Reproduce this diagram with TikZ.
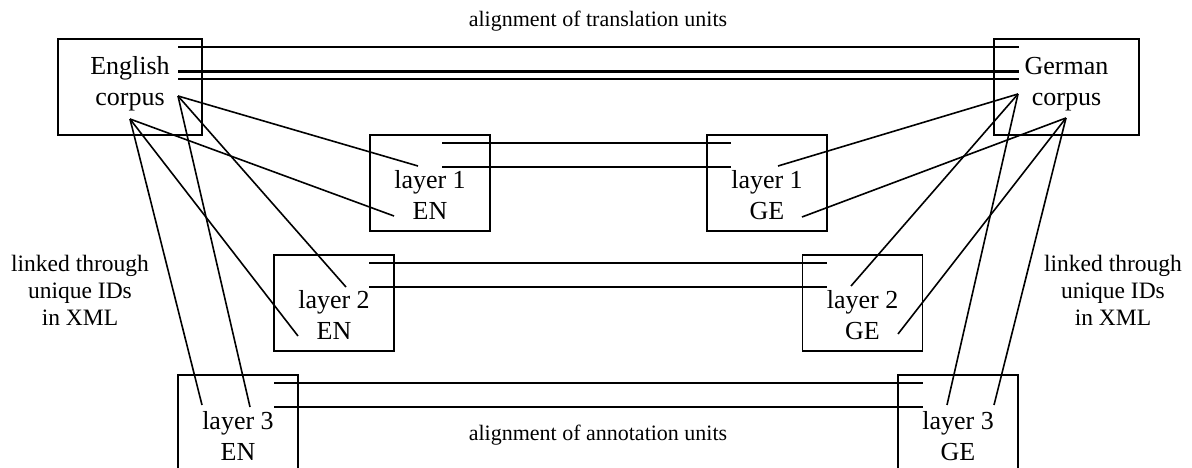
\documentclass[tikz,border=0pt]{standalone}
\usepackage{fontspec}
\setmainfont{Liberation Serif}
\begin{document}
\begin{tikzpicture}[x=1pt, y=-1pt,
		box/.style={draw, line width=1.7pt, inner sep=0pt, minimum width=120pt, minimum height=96pt},
		corp/.style={box, minimum width=144pt},
		txt/.style={align=center, inner sep=0pt, font=\fontsize{26}{31}\selectfont},
		lbl/.style={align=center, inner sep=0pt, font=\fontsize{22}{27.5}\selectfont},
		side/.style={lbl, font=\fontsize{23.5}{27}\selectfont},
		link/.style={line width=1.6pt}
	]
	\clip (0,0) rectangle (1192,468);

	% corpora
	\node[corp] (en) at (130,87) {};
	\node[corp, minimum width=145pt] (ge) at (1066.5,87) {};
	\node[txt] (en-t) at ([yshift=3pt]en.center) {English\\corpus};
	\node[txt] (ge-t) at ([yshift=3pt]ge.center) {German\\corpus};

	% layers
	\node[box] (l1en) at (430,183) {};
	\node[box] (l1ge) at (767,183) {};
	\node[box] (l2en) at (334,303) {};
	\node[box] (l2ge) at (862.5,303) {};
	\node[box] (l3en) at (238,423) {};
	\node[box] (l3ge) at (958,423) {};
	\node[txt] (l1en-t) at ([yshift=-12pt]l1en.center) {layer 1\\EN};
	\node[txt] (l1ge-t) at ([yshift=-12pt]l1ge.center) {layer 1\\GE};
	\node[txt] (l2en-t) at ([yshift=-12pt]l2en.center) {layer 2\\EN};
	\node[txt] (l2ge-t) at ([yshift=-12pt]l2ge.center) {layer 2\\GE};
	\node[txt] (l3en-t) at ([yshift=-13pt]l3en.center) {layer 3\\EN};
	\node[txt] (l3ge-t) at ([yshift=-13pt]l3ge.center) {layer 3\\GE};

	% labels
	\node[lbl, anchor=base] (top) at (598,27) {alignment of translation units};
	\node[lbl, anchor=base] (bot) at (598,440) {alignment of annotation units};
	\node[side] (idl) at (80,290) {linked through\\unique IDs\\in XML};
	\node[side] (idr) at (1113,290) {linked through\\unique IDs\\in XML};

	% end points
	\coordinate (en-a) at (178,96);
	\coordinate (en-b) at (130,119);
	\coordinate (ge-a) at (1018,94);
	\coordinate (ge-b) at (1066,118);
	\coordinate (l1en-a) at (418,166);
	\coordinate (l1en-b) at (394,216);
	\coordinate (l2en-a) at (346,287);
	\coordinate (l2en-b) at (298,336);
	\coordinate (l3en-a) at (250,407);
	\coordinate (l3en-b) at (202,405);
	\coordinate (l1ge-a) at (778,166);
	\coordinate (l1ge-b) at (802,217);
	\coordinate (l2ge-a) at (851,286);
	\coordinate (l2ge-b) at (898,334);
	\coordinate (l3ge-a) at (947,405);
	\coordinate (l3ge-b) at (994,405);

	% alignment lines
	\coordinate (c1) at (178,47);   \coordinate (d1) at (1019,47);
	\coordinate (c2) at (178,71.5); \coordinate (d2) at (1019,71.5);
	\coordinate (c3) at (178,79);   \coordinate (d3) at (1019,79);
	\coordinate (p1) at (442,143);  \coordinate (q1) at (731,143);
	\coordinate (p2) at (442,167);  \coordinate (q2) at (731,167);
	\coordinate (r1) at (369,263);  \coordinate (s1) at (827,263);
	\coordinate (r2) at (369,287);  \coordinate (s2) at (827,287);
	\coordinate (u1) at (274,383);  \coordinate (v1) at (923,383);
	\coordinate (u2) at (274,407);  \coordinate (v2) at (923,407);

	\draw[link] (c1) -- (d1);
	\draw[link, line width=2.4pt] (c2) -- (d2);
	\draw[link] (c3) -- (d3);
	\draw[link] (p1) -- (q1);
	\draw[link] (p2) -- (q2);
	\draw[link] (r1) -- (s1);
	\draw[link] (r2) -- (s2);
	\draw[link] (u1) -- (v1);
	\draw[link] (u2) -- (v2);

	% ID links
	\draw[link] (en-a) -- (l1en-a);
	\draw[link] (en-a) -- (l2en-a);
	\draw[link] (en-a) -- (l3en-a);
	\draw[link] (en-b) -- (l1en-b);
	\draw[link] (en-b) -- (l2en-b);
	\draw[link] (en-b) -- (l3en-b);
	\draw[link] (ge-a) -- (l1ge-a);
	\draw[link] (ge-a) -- (l2ge-a);
	\draw[link] (ge-a) -- (l3ge-a);
	\draw[link] (ge-b) -- (l1ge-b);
	\draw[link] (ge-b) -- (l2ge-b);
	\draw[link] (ge-b) -- (l3ge-b);
\end{tikzpicture}
\end{document}
